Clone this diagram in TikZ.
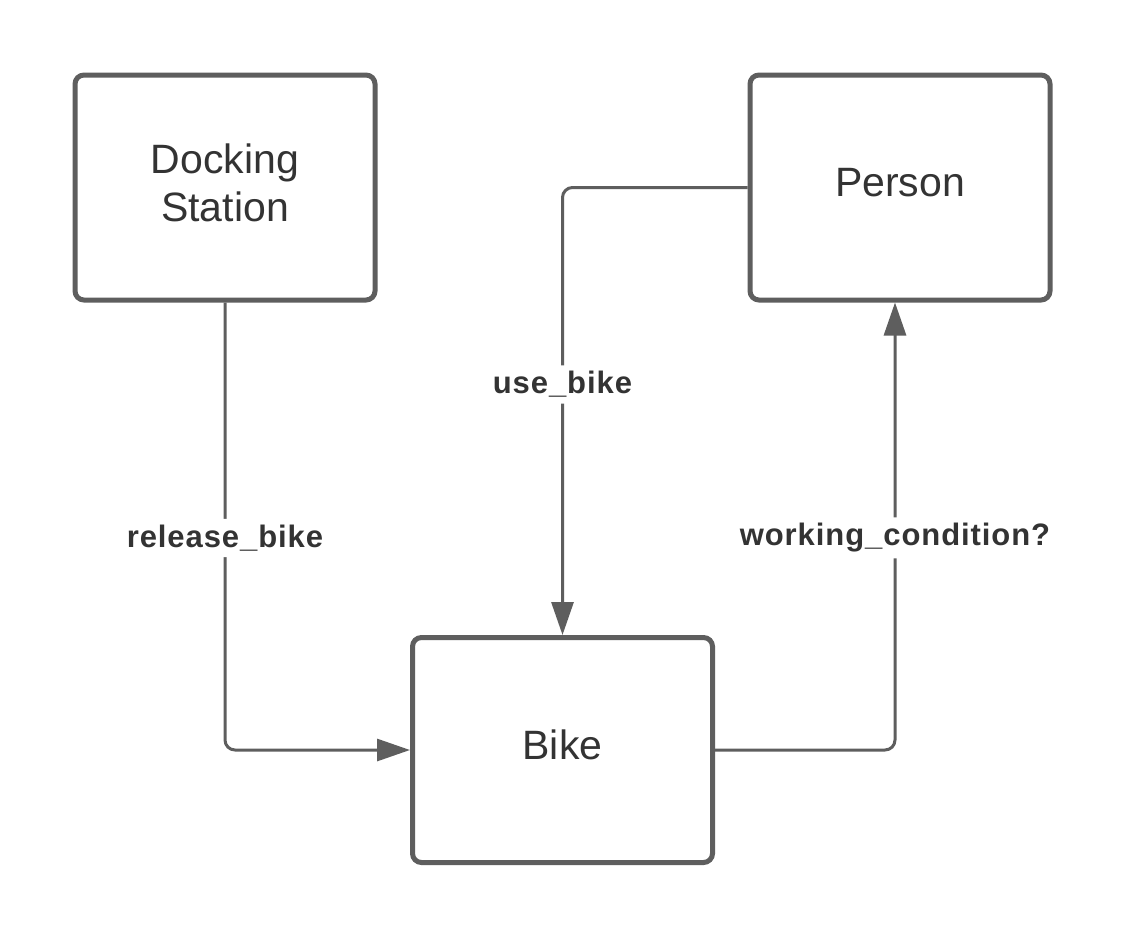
\documentclass[tikz,border=0pt]{standalone}
\usepackage{fontspec}
\setmainfont{Liberation Sans}
\newfontfamily\labelfont[LetterSpace=3]{Liberation Sans Bold}
\usepackage{xcolor}
\usetikzlibrary{arrows.meta}
\definecolor{edgegray}{HTML}{5E5E5E}
\definecolor{textgray}{HTML}{333333}

\begin{document}
\begin{tikzpicture}[x=1pt, y=-1pt,
  Box/.style={draw=edgegray, line width=5pt, rounded corners=9pt, minimum width=300pt, minimum height=225pt, align=center, text depth=10pt, text=textgray, font=\fontsize{41}{48}\selectfont},
  Link/.style={draw=edgegray, line width=3pt, rounded corners=10pt, -{Triangle[length=33pt,width=22pt]}},
  Label/.style={fill=white, text=textgray, inner xsep=2pt, inner ysep=6pt, font=\labelfont\fontsize{31}{36}\selectfont}]
\fill[white] (0,0) rectangle (1127,938);
\node[Box] (Docking) at (225,187.5) {Docking\\Station};
\node[Box] (Person) at (900,187.5) {Person};
\node[Box] (Bike) at (562.5,750) {Bike};
\draw[Link] (Docking.south) |- node[Label, pos=0.263] (Release) {release\_bike} (Bike.west);
\draw[Link] (Person.west) -| node[Label, pos=0.72] (Use) {use\_bike} (Bike.north);
\draw[Link] (Bike.east) -| node[Label, pos=0.737] (Working) {working\_condition?} ([xshift=-5]Person.south);
\end{tikzpicture}
\end{document}
